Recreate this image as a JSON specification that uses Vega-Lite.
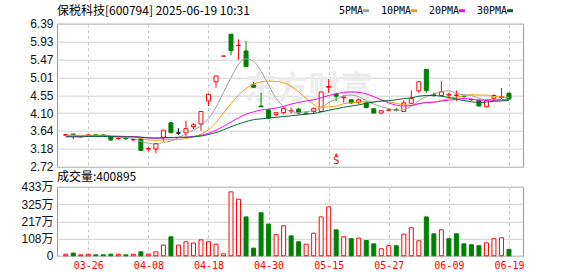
{
 "$schema": "https://vega.github.io/schema/vega-lite/v6.json",
 "background": "#ffffff",
 "padding": {"left": 20, "top": 3.7, "right": 4, "bottom": 2},
 "bounds": "flush",
 "spacing": 19.1,
 "config": {
   "view": {"stroke": "#999999", "strokeWidth": 1},
   "font": "Liberation Sans",
   "axis": {"domain": false, "ticks": false, "gridColor": "#d0d0d0", "gridWidth": 1, "labelFont": "Liberation Sans, Noto Sans CJK SC", "labelFontSize": 12, "labelColor": "#111111", "labelFlush": false, "labelOverlap": false},
   "title": {"font": "Noto Sans CJK SC", "fontWeight": "normal", "color": "#000000", "anchor": "start", "frame": "group"}
 },
 "resolve": {"scale": {"x": "independent", "y": "independent", "fill": "independent", "stroke": "independent"}},
 "datasets": {"k": [
  {"i":0,"d":"03-21","o":3.53,"h":3.57,"l":3.52,"c":3.55,"dir":"up","v":10,"vd":"up","ma5":3.53,"ma10":3.53,"ma20":3.50,"ma30":3.49},
  {"i":1,"d":"03-24","o":3.56,"h":3.57,"l":3.43,"c":3.53,"dir":"down","v":17,"vd":"down","ma5":3.53,"ma10":3.53,"ma20":3.50,"ma30":3.49},
  {"i":2,"d":"03-25","o":3.50,"h":3.51,"l":3.48,"c":3.49,"dir":"down","v":6,"vd":"up","ma5":3.52,"ma10":3.53,"ma20":3.50,"ma30":3.49},
  {"i":3,"d":"03-26","o":3.53,"h":3.56,"l":3.52,"c":3.54,"dir":"up","v":10,"vd":"up","ma5":3.53,"ma10":3.53,"ma20":3.51,"ma30":3.50},
  {"i":4,"d":"03-27","o":3.54,"h":3.55,"l":3.52,"c":3.53,"dir":"down","v":6,"vd":"down","ma5":3.53,"ma10":3.53,"ma20":3.51,"ma30":3.50},
  {"i":5,"d":"03-28","o":3.54,"h":3.55,"l":3.51,"c":3.52,"dir":"down","v":6,"vd":"down","ma5":3.52,"ma10":3.53,"ma20":3.51,"ma30":3.50},
  {"i":6,"d":"03-31","o":3.49,"h":3.50,"l":3.39,"c":3.41,"dir":"down","v":10,"vd":"down","ma5":3.50,"ma10":3.52,"ma20":3.50,"ma30":3.50},
  {"i":7,"d":"04-01","o":3.44,"h":3.47,"l":3.42,"c":3.45,"dir":"up","v":10,"vd":"up","ma5":3.49,"ma10":3.51,"ma20":3.50,"ma30":3.49},
  {"i":8,"d":"04-02","o":3.45,"h":3.47,"l":3.42,"c":3.44,"dir":"down","v":6,"vd":"down","ma5":3.47,"ma10":3.50,"ma20":3.50,"ma30":3.49},
  {"i":9,"d":"04-03","o":3.41,"h":3.44,"l":3.39,"c":3.42,"dir":"up","v":10,"vd":"up","ma5":3.45,"ma10":3.49,"ma20":3.50,"ma30":3.49},
  {"i":10,"d":"04-07","o":3.44,"h":3.45,"l":3.13,"c":3.14,"dir":"down","v":25,"vd":"down","ma5":3.37,"ma10":3.45,"ma20":3.48,"ma30":3.48},
  {"i":11,"d":"04-08","o":3.18,"h":3.23,"l":3.12,"c":3.19,"dir":"up","v":10,"vd":"up","ma5":3.33,"ma10":3.41,"ma20":3.46,"ma30":3.47},
  {"i":12,"d":"04-09","o":3.18,"h":3.33,"l":3.07,"c":3.32,"dir":"up","v":25,"vd":"up","ma5":3.30,"ma10":3.40,"ma20":3.45,"ma30":3.46},
  {"i":13,"d":"04-10","o":3.48,"h":3.67,"l":3.37,"c":3.66,"dir":"up","v":67,"vd":"up","ma5":3.35,"ma10":3.41,"ma20":3.46,"ma30":3.47},
  {"i":14,"d":"04-11","o":3.85,"h":3.87,"l":3.59,"c":3.60,"dir":"down","v":119,"vd":"down","ma5":3.38,"ma10":3.42,"ma20":3.47,"ma30":3.47},
  {"i":15,"d":"04-14","o":3.59,"h":3.71,"l":3.54,"c":3.59,"dir":"flat","v":67,"vd":"up","ma5":3.47,"ma10":3.42,"ma20":3.47,"ma30":3.48},
  {"i":16,"d":"04-15","o":3.59,"h":3.90,"l":3.50,"c":3.70,"dir":"up","v":88,"vd":"up","ma5":3.57,"ma10":3.45,"ma20":3.48,"ma30":3.48},
  {"i":17,"d":"04-16","o":3.75,"h":3.84,"l":3.69,"c":3.80,"dir":"up","v":80,"vd":"up","ma5":3.67,"ma10":3.49,"ma20":3.50,"ma30":3.49},
  {"i":18,"d":"04-17","o":3.82,"h":4.15,"l":3.65,"c":4.14,"dir":"up","v":100,"vd":"up","ma5":3.77,"ma10":3.56,"ma20":3.53,"ma30":3.51},
  {"i":19,"d":"04-18","o":4.41,"h":4.60,"l":4.28,"c":4.58,"dir":"up","v":88,"vd":"up","ma5":3.96,"ma10":3.67,"ma20":3.58,"ma30":3.55},
  {"i":20,"d":"04-21","o":4.90,"h":5.06,"l":4.75,"c":5.05,"dir":"up","v":73,"vd":"up","ma5":4.25,"ma10":3.86,"ma20":3.66,"ma30":3.60},
  {"i":21,"d":"04-22","o":5.56,"h":5.56,"l":5.56,"c":5.56,"dir":"up","v":12,"vd":"up","ma5":4.63,"ma10":4.10,"ma20":3.76,"ma30":3.67},
  {"i":22,"d":"04-23","o":6.12,"h":6.12,"l":5.58,"c":5.70,"dir":"down","v":401,"vd":"up","ma5":5.01,"ma10":4.34,"ma20":3.87,"ma30":3.75},
  {"i":23,"d":"04-24","o":5.83,"h":5.99,"l":5.47,"c":5.84,"dir":"up","v":355,"vd":"up","ma5":5.35,"ma10":4.56,"ma20":3.98,"ma30":3.82},
  {"i":24,"d":"04-25","o":5.69,"h":5.94,"l":5.28,"c":5.29,"dir":"down","v":244,"vd":"down","ma5":5.49,"ma10":4.73,"ma20":4.07,"ma30":3.88},
  {"i":25,"d":"04-28","o":4.82,"h":4.90,"l":4.76,"c":4.76,"dir":"down","v":48,"vd":"down","ma5":5.43,"ma10":4.84,"ma20":4.13,"ma30":3.93},
  {"i":26,"d":"04-29","o":4.28,"h":4.62,"l":4.25,"c":4.26,"dir":"down","v":270,"vd":"down","ma5":5.17,"ma10":4.90,"ma20":4.18,"ma30":3.95},
  {"i":27,"d":"04-30","o":4.18,"h":4.21,"l":3.96,"c":3.97,"dir":"down","v":199,"vd":"down","ma5":4.82,"ma10":4.92,"ma20":4.20,"ma30":3.97},
  {"i":28,"d":"05-06","o":4.06,"h":4.11,"l":4.01,"c":4.11,"dir":"up","v":132,"vd":"up","ma5":4.48,"ma10":4.91,"ma20":4.23,"ma30":3.99},
  {"i":29,"d":"05-07","o":4.11,"h":4.23,"l":4.07,"c":4.22,"dir":"up","v":188,"vd":"up","ma5":4.26,"ma10":4.88,"ma20":4.27,"ma30":4.01},
  {"i":30,"d":"05-08","o":4.15,"h":4.24,"l":4.09,"c":4.16,"dir":"up","v":125,"vd":"down","ma5":4.14,"ma10":4.79,"ma20":4.33,"ma30":4.03},
  {"i":31,"d":"05-09","o":4.20,"h":4.23,"l":4.07,"c":4.10,"dir":"down","v":88,"vd":"down","ma5":4.11,"ma10":4.64,"ma20":4.37,"ma30":4.05},
  {"i":32,"d":"05-12","o":4.10,"h":4.11,"l":4.08,"c":4.09,"dir":"down","v":73,"vd":"up","ma5":4.14,"ma10":4.48,"ma20":4.41,"ma30":4.07},
  {"i":33,"d":"05-13","o":4.14,"h":4.24,"l":4.09,"c":4.22,"dir":"up","v":142,"vd":"up","ma5":4.16,"ma10":4.32,"ma20":4.44,"ma30":4.09},
  {"i":34,"d":"05-14","o":4.14,"h":4.64,"l":4.13,"c":4.64,"dir":"up","v":244,"vd":"up","ma5":4.24,"ma10":4.25,"ma20":4.49,"ma30":4.13},
  {"i":35,"d":"05-15","o":4.76,"h":4.97,"l":4.62,"c":4.78,"dir":"up","v":307,"vd":"up","ma5":4.37,"ma10":4.26,"ma20":4.55,"ma30":4.17},
  {"i":36,"d":"05-16","o":4.58,"h":4.62,"l":4.40,"c":4.53,"dir":"down","v":163,"vd":"down","ma5":4.45,"ma10":4.28,"ma20":4.59,"ma30":4.21},
  {"i":37,"d":"05-19","o":4.49,"h":4.56,"l":4.37,"c":4.51,"dir":"up","v":119,"vd":"up","ma5":4.54,"ma10":4.34,"ma20":4.63,"ma30":4.25},
  {"i":38,"d":"05-20","o":4.44,"h":4.45,"l":4.33,"c":4.36,"dir":"down","v":107,"vd":"down","ma5":4.56,"ma10":4.36,"ma20":4.64,"ma30":4.28},
  {"i":39,"d":"05-21","o":4.37,"h":4.47,"l":4.33,"c":4.44,"dir":"up","v":111,"vd":"up","ma5":4.52,"ma10":4.38,"ma20":4.63,"ma30":4.31},
  {"i":40,"d":"05-22","o":4.36,"h":4.38,"l":4.22,"c":4.24,"dir":"down","v":96,"vd":"down","ma5":4.42,"ma10":4.39,"ma20":4.59,"ma30":4.35},
  {"i":41,"d":"05-23","o":4.21,"h":4.22,"l":4.08,"c":4.10,"dir":"down","v":75,"vd":"down","ma5":4.33,"ma10":4.39,"ma20":4.52,"ma30":4.38},
  {"i":42,"d":"05-26","o":4.10,"h":4.16,"l":4.09,"c":4.16,"dir":"up","v":44,"vd":"up","ma5":4.26,"ma10":4.40,"ma20":4.44,"ma30":4.41},
  {"i":43,"d":"05-27","o":4.17,"h":4.21,"l":4.15,"c":4.18,"dir":"up","v":63,"vd":"up","ma5":4.22,"ma10":4.39,"ma20":4.36,"ma30":4.42},
  {"i":44,"d":"05-28","o":4.18,"h":4.23,"l":4.14,"c":4.17,"dir":"down","v":63,"vd":"down","ma5":4.17,"ma10":4.35,"ma20":4.30,"ma30":4.44},
  {"i":45,"d":"05-29","o":4.14,"h":4.43,"l":4.13,"c":4.36,"dir":"up","v":136,"vd":"up","ma5":4.19,"ma10":4.31,"ma20":4.28,"ma30":4.47},
  {"i":46,"d":"05-30","o":4.35,"h":4.68,"l":4.34,"c":4.47,"dir":"up","v":176,"vd":"up","ma5":4.27,"ma10":4.30,"ma20":4.29,"ma30":4.49},
  {"i":47,"d":"06-03","o":4.67,"h":4.91,"l":4.61,"c":4.90,"dir":"up","v":94,"vd":"up","ma5":4.42,"ma10":4.34,"ma20":4.34,"ma30":4.53},
  {"i":48,"d":"06-04","o":5.22,"h":5.23,"l":4.61,"c":4.68,"dir":"down","v":244,"vd":"down","ma5":4.52,"ma10":4.37,"ma20":4.37,"ma30":4.55},
  {"i":49,"d":"06-05","o":4.57,"h":4.63,"l":4.51,"c":4.56,"dir":"down","v":138,"vd":"down","ma5":4.59,"ma10":4.38,"ma20":4.38,"ma30":4.55},
  {"i":50,"d":"06-06","o":4.55,"h":4.92,"l":4.54,"c":4.64,"dir":"up","v":163,"vd":"up","ma5":4.65,"ma10":4.42,"ma20":4.41,"ma30":4.53},
  {"i":51,"d":"06-09","o":4.56,"h":4.62,"l":4.50,"c":4.58,"dir":"up","v":107,"vd":"down","ma5":4.67,"ma10":4.47,"ma20":4.43,"ma30":4.50},
  {"i":52,"d":"06-10","o":4.55,"h":4.68,"l":4.41,"c":4.56,"dir":"up","v":138,"vd":"down","ma5":4.60,"ma10":4.51,"ma20":4.45,"ma30":4.46},
  {"i":53,"d":"06-11","o":4.53,"h":4.55,"l":4.49,"c":4.52,"dir":"down","v":75,"vd":"down","ma5":4.57,"ma10":4.54,"ma20":4.47,"ma30":4.42},
  {"i":54,"d":"06-12","o":4.45,"h":4.47,"l":4.42,"c":4.44,"dir":"down","v":69,"vd":"down","ma5":4.55,"ma10":4.57,"ma20":4.46,"ma30":4.39},
  {"i":55,"d":"06-13","o":4.43,"h":4.44,"l":4.27,"c":4.28,"dir":"down","v":63,"vd":"down","ma5":4.48,"ma10":4.56,"ma20":4.43,"ma30":4.37},
  {"i":56,"d":"06-16","o":4.26,"h":4.43,"l":4.25,"c":4.42,"dir":"up","v":81,"vd":"up","ma5":4.44,"ma10":4.56,"ma20":4.43,"ma30":4.38},
  {"i":57,"d":"06-17","o":4.48,"h":4.58,"l":4.41,"c":4.55,"dir":"up","v":107,"vd":"up","ma5":4.44,"ma10":4.52,"ma20":4.43,"ma30":4.40},
  {"i":58,"d":"06-18","o":4.50,"h":4.74,"l":4.46,"c":4.52,"dir":"up","v":113,"vd":"up","ma5":4.44,"ma10":4.51,"ma20":4.44,"ma30":4.41},
  {"i":59,"d":"06-19","o":4.61,"h":4.62,"l":4.44,"c":4.46,"dir":"down","v":40,"vd":"down","ma5":4.45,"ma10":4.50,"ma20":4.44,"ma30":4.42}
 ]},
 "vconcat": [
  {
   "width": 466,
   "height": 143.2,
   "title": {"text": "保税科技[600794] 2025-06-19 10:31", "fontSize": 12, "offset": 0},
   "layer": [
     {
       "data": {"values": [{}]},
       "mark": {"type": "text", "font": "Noto Sans CJK SC", "fontWeight": "bold", "fontSize": 32, "color": "#ececec", "text": "东方财富"},
       "encoding": {
         "x": {"datum": 32.3, "type": "quantitative", "scale": {"domain": [-0.5, 60.2], "nice": false, "zero": false},
               "axis": {"values": [3, 11, 19, 27, 35, 43, 51, 59], "labels": false, "grid": true, "gridDash": [3, 3], "gridColor": "#c8c8c8", "title": null}},
         "y": {"datum": 4.72, "type": "quantitative", "scale": {"domain": [2.72, 6.39], "nice": false, "zero": false},
               "axis": {"values": [2.72, 3.18, 3.64, 4.10, 4.55, 5.01, 5.47, 5.93, 6.39], "format": ".2f", "grid": true, "labelPadding": 4, "title": null}}
       }
     },
     {
       "data": {"name": "k"},
       "mark": {"type": "rule", "strokeWidth": 1},
       "encoding": {
         "x": {"field": "i", "type": "quantitative", "axis": {"values": [3, 11, 19, 27, 35, 43, 51, 59], "labels": false, "grid": true, "gridDash": [3, 3], "gridColor": "#c8c8c8", "title": null}},
         "y": {"field": "l", "type": "quantitative", "axis": {"values": [2.72, 3.18, 3.64, 4.10, 4.55, 5.01, 5.47, 5.93, 6.39], "format": ".2f", "grid": true, "labelPadding": 4, "title": null}},
         "y2": {"field": "h"},
         "stroke": {"field": "dir", "type": "nominal", "scale": {"domain": ["up", "down", "flat"], "range": ["#ff0000", "#008000", "#000000"]}, "legend": null}
       }
     },
     {
       "data": {"name": "k"},
       "mark": {"type": "bar", "size": 4, "strokeWidth": 1},
       "encoding": {
         "x": {"field": "i", "type": "quantitative", "axis": {"values": [3, 11, 19, 27, 35, 43, 51, 59], "labels": false, "grid": true, "gridDash": [3, 3], "gridColor": "#c8c8c8", "title": null}},
         "y": {"field": "o", "type": "quantitative", "axis": {"values": [2.72, 3.18, 3.64, 4.10, 4.55, 5.01, 5.47, 5.93, 6.39], "format": ".2f", "grid": true, "labelPadding": 4, "title": null}},
         "y2": {"field": "c"},
         "fill": {"field": "dir", "type": "nominal", "scale": {"domain": ["up", "down", "flat"], "range": ["#ffffff", "#008000", "#000000"]}, "legend": null},
         "stroke": {"field": "dir", "type": "nominal", "scale": {"domain": ["up", "down", "flat"], "range": ["#ff0000", "#008000", "#000000"]}, "legend": null}
       }
     },
     {
       "data": {"name": "k"},
       "transform": [{"fold": ["ma5", "ma10", "ma20", "ma30"], "as": ["ma", "val"]}],
       "mark": {"type": "line", "strokeWidth": 1, "interpolate": "monotone"},
       "encoding": {
         "x": {"field": "i", "type": "quantitative", "axis": {"values": [3, 11, 19, 27, 35, 43, 51, 59], "labels": false, "grid": true, "gridDash": [3, 3], "gridColor": "#c8c8c8", "title": null}},
         "y": {"field": "val", "type": "quantitative", "axis": {"values": [2.72, 3.18, 3.64, 4.10, 4.55, 5.01, 5.47, 5.93, 6.39], "format": ".2f", "grid": true, "labelPadding": 4, "title": null}},
         "color": {"field": "ma", "type": "nominal",
           "scale": {"domain": ["ma5", "ma10", "ma20", "ma30"], "range": ["#a0a0a0", "#f0a000", "#ff00ff", "#006b30"]},
           "legend": {"orient": "none", "legendX": 304, "legendY": -18, "direction": "horizontal", "title": null,
             "labelExpr": "replace(datum.label, 'ma', '') + 'PMA'",
             "symbolType": "stroke", "symbolStrokeWidth": 3, "symbolSize": 36,
             "labelFont": "DejaVu Sans Mono", "labelFontSize": 10, "labelColor": "#000000",
             "labelAlign": "right", "labelOffset": -8, "columnPadding": 5, "gridAlign": "none"}}
       }
     },
     {
       "data": {"values": [{}]},
       "mark": {"type": "text", "text": "S", "font": "DejaVu Sans Mono", "fontSize": 11, "color": "#ff0000", "baseline": "middle"},
       "encoding": {
         "x": {"datum": 36, "type": "quantitative", "axis": {"values": [3, 11, 19, 27, 35, 43, 51, 59], "labels": false, "grid": true, "gridDash": [3, 3], "gridColor": "#c8c8c8", "title": null}},
         "y": {"datum": 2.88, "type": "quantitative", "axis": {"values": [2.72, 3.18, 3.64, 4.10, 4.55, 5.01, 5.47, 5.93, 6.39], "format": ".2f", "grid": true, "labelPadding": 4, "title": null}}
       }
     },
     {
       "data": {"values": [{}]},
       "mark": {"type": "point", "shape": "triangle-up", "filled": true, "size": 10, "color": "#ff0000", "opacity": 1},
       "encoding": {
         "x": {"datum": 36, "type": "quantitative", "axis": {"values": [3, 11, 19, 27, 35, 43, 51, 59], "labels": false, "grid": true, "gridDash": [3, 3], "gridColor": "#c8c8c8", "title": null}},
         "y": {"datum": 3.04, "type": "quantitative", "axis": {"values": [2.72, 3.18, 3.64, 4.10, 4.55, 5.01, 5.47, 5.93, 6.39], "format": ".2f", "grid": true, "labelPadding": 4, "title": null}}
       }
     }
   ]
  },
  {
   "width": 466,
   "height": 69,
   "title": {"text": "成交量:400895", "fontSize": 12, "offset": -3},
   "data": {"name": "k"},
   "mark": {"type": "bar", "size": 4, "strokeWidth": 1},
   "encoding": {
     "x": {"field": "i", "type": "quantitative", "scale": {"domain": [-0.5, 60.2], "nice": false, "zero": false},
           "axis": {"values": [3, 11, 19, 27, 35, 43, 51, 59],
             "labelExpr": "['03-26','04-08','04-18','04-30','05-15','05-27','06-09','06-19'][round((datum.value - 3) / 8)]",
             "grid": true, "gridDash": [3, 3], "gridColor": "#c8c8c8", "labelColor": "#ff0000", "labelFont": "DejaVu Sans Mono", "labelFontSize": 10, "labelPadding": 4.5, "title": null}},
     "y": {"field": "v", "type": "quantitative", "scale": {"domain": [0, 433], "nice": false},
           "axis": {"values": [0, 108.25, 216.5, 324.75, 433], "labelExpr": "datum.value == 0 ? '0' : format(datum.value, '.0f') + '万'", "grid": true, "labelPadding": 4, "title": null}},
     "fill": {"field": "vd", "type": "nominal", "scale": {"domain": ["up", "down"], "range": ["#ffffff", "#008000"]}, "legend": null},
     "stroke": {"field": "vd", "type": "nominal", "scale": {"domain": ["up", "down"], "range": ["#ff0000", "#008000"]}, "legend": null}
   }
  }
 ]
}
